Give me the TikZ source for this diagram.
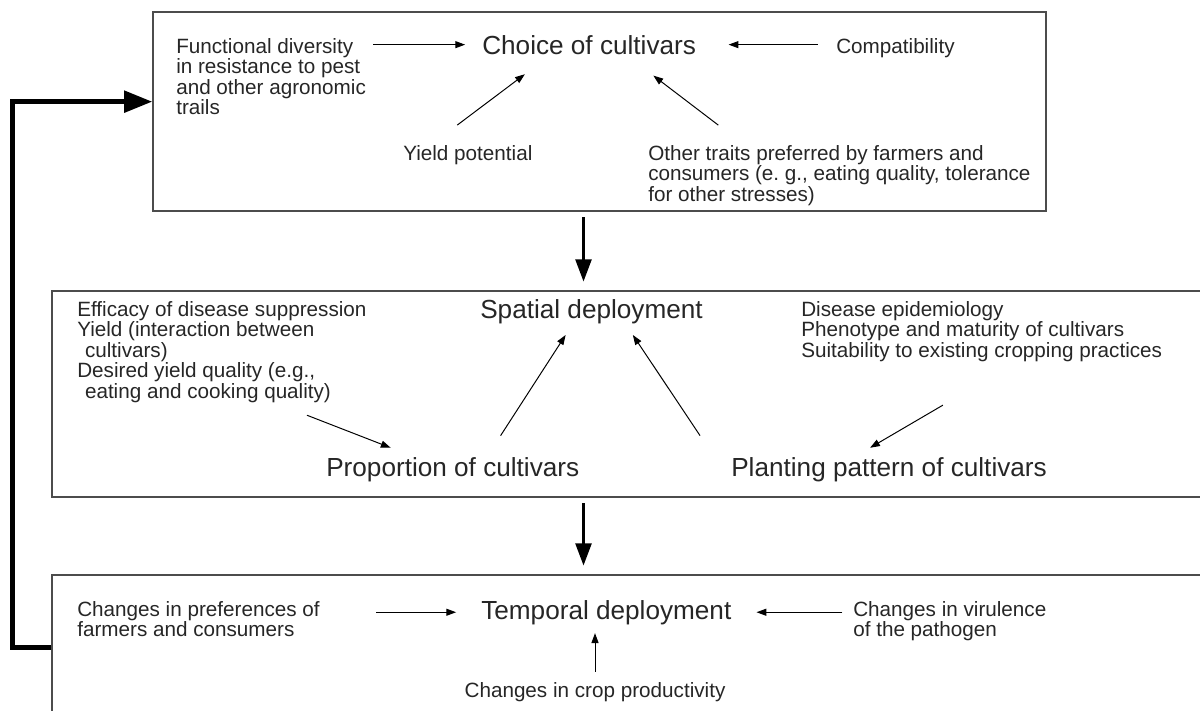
\documentclass[tikz,border=0pt]{standalone}
\usepackage{fontspec}
\setmainfont{Liberation Sans}
\usetikzlibrary{arrows.meta,positioning,fit}
\tikzset{
  panel/.style={draw=black!70, line width=1pt, inner sep=0pt},
  note/.style={font={\fontsize{14.7pt}{14.55pt}\selectfont}, align=left,
               inner sep=0pt, anchor=base west, text=black!85},
  stage/.style={font={\fontsize{18.6pt}{22pt}\selectfont},
                inner sep=0pt, anchor=base west, text=black!85},
  arrow/.style={-{Triangle[length=7pt,width=5pt]}, line width=0.7pt},
  bigarrow/.style={-{Triangle[length=16pt,width=11pt]}, line width=2.8pt},
  backarrow/.style={-{Triangle[length=20pt,width=15pt]}, line width=3.5pt}
}
\begin{document}
\begin{tikzpicture}[x=0.025cm, y=-0.025cm]
  \useasboundingbox (0,0) rectangle (1200,710);
  % the three panels
  \node[panel, fit={(153,12) (1046,211)}] (choicebox) {};
  \node[panel, fit={(52,291) (1215,497)}] (spacebox) {};
  \node[panel, fit={(52,575) (1215,720)}] (timebox) {};

  % choice of cultivars (multi-line notes sit on their last baseline)
  \node[stage] (choice) at (482,54) {Choice of cultivars};
  \node[note] (funct) at (176,114.5) {Functional diversity\\in resistance to pest\\and other agronomic\\trails};
  \node[note] (compat) at (836,53) {Compatibility};
  \node[note] (yield) at (403,160) {Yield potential};
  \node[note] (other) at (648,201) {Other traits preferred by farmers and\\consumers (e.\ g., eating quality, tolerance\\for other stresses)};
  \draw[arrow] ([xshift=5pt]funct.east |- choice.west) -- ([xshift=-12pt]choice.west);
  \draw[arrow] ([xshift=-13pt]compat.west |- choice.west) -- ([xshift=23pt]choice.east);
  \draw[arrow] ([xshift=-7.5pt,yshift=14pt]yield.north) -- ([xshift=30.5pt,yshift=-14pt]choice.south west);
  \draw[arrow] ([xshift=50pt,yshift=14pt]other.north west) -- ([xshift=-30.5pt,yshift=-15pt]choice.south east);

  % spatial deployment
  \node[stage] (spatial) at (480,318) {Spatial deployment};
  \node[note] (eff) at (77,398) {Efficacy of disease suppression\\Yield (interaction between\\\hspace*{5.5pt}cultivars)\\Desired yield quality (e.g.,\\\hspace*{5.5pt}eating and cooking quality)};
  \node[note] (disease) at (801,357) {Disease epidemiology\\Phenotype and maturity of cultivars\\Suitability to existing cropping practices};
  \node[stage] (prop) at (326,476) {Proportion of cultivars};
  \node[stage] (plant) at (731,476) {Planting pattern of cultivars};
  \draw[arrow] ([xshift=-42.5pt,yshift=-9pt]eff.south east) -- ([xshift=46pt,yshift=6.4pt]prop.north west);
  \draw[arrow] ([xshift=34pt,yshift=15pt]prop.north) -- ([xshift=-18.4pt,yshift=-8pt]spatial.south);
  \draw[arrow] ([xshift=-22pt,yshift=15pt]plant.north west) -- ([xshift=29.4pt,yshift=-8pt]spatial.south);
  \draw[arrow] ([xshift=-27.6pt,yshift=-31pt]disease.south) -- ([xshift=-13.5pt,yshift=6.4pt]plant.north);

  % temporal deployment
  \node[stage] (temporal) at (481,619) {Temporal deployment};
  \node[note] (pref) at (77,636.5) {Changes in preferences of\\farmers and consumers};
  \node[note] (viru) at (853,636.5) {Changes in virulence\\of the pathogen};
  \node[note, anchor=base] (crop) at (595,697) {Changes in crop productivity};
  \draw[arrow] ([xshift=40pt]pref.east |- temporal.west) -- ([xshift=-17.7pt]temporal.west);
  \draw[arrow] ([xshift=-7.5pt]viru.west |- temporal.west) -- ([xshift=17.7pt]temporal.east);
  \draw[arrow] ([yshift=7pt]crop.north) -- ([yshift=-6pt]crop.north |- temporal.south);

  % links between panels
  \draw[bigarrow] ([xshift=-4pt,yshift=-4pt]choicebox.south -| choice) -- ([xshift=-4pt,yshift=6pt]spacebox.north -| choice);
  \draw[bigarrow] ([xshift=-4pt,yshift=-4pt]spacebox.south -| choice) -- ([xshift=-4pt,yshift=6pt]timebox.north -| choice);
  \draw[backarrow] (timebox.west) -- ++(-39,0) |- ([yshift=7pt]choicebox.west);
\end{tikzpicture}
\end{document}
